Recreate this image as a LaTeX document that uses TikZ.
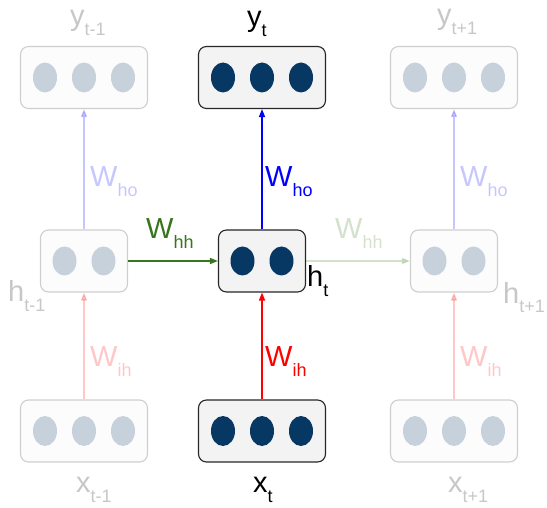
\documentclass[tikz,border=0pt]{standalone}
\usepackage{fontspec}
\setmainfont{Liberation Sans}
\usetikzlibrary{arrows.meta}
\definecolor{cellnavy}{HTML}{073763}
\definecolor{cellfill}{HTML}{F3F3F3}
\definecolor{wgreen}{HTML}{38761D}
\newcommand{\idx}[1]{\raisebox{-10pt}{\fontsize{18}{18}\selectfont #1}}
\tikzset{
    layer3/.style={rectangle, draw=black!85, fill=cellfill, rounded corners=8pt, minimum width=127pt, minimum height=62pt, line width=1.1pt},
    layer2/.style={layer3, minimum width=87pt},
    unit/.style={fill=cellnavy},
    lbl/.style={anchor=base west, inner sep=0pt, font=\fontsize{29}{29}\selectfont},
    wire/.style={-{Triangle[length=8pt,width=6pt]}, line width=1.3pt},
    faded/.style={opacity=0.22}
}

\begin{document}
\begin{tikzpicture}[x=1pt, y=1pt]
    \useasboundingbox (0,0) rectangle (547,507);

    % Time step t
    \node[layer3] (yt) at (262,429.5) {};
    \node[layer2] (ht) at (262,246) {};
    \node[layer3] (xt) at (262,76) {};
    \foreach \dx in {-39,0,39} {
        \fill[unit] ([xshift=\dx pt]yt.center) ellipse (12pt and 15pt);
        \fill[unit] ([xshift=\dx pt]xt.center) ellipse (12pt and 15pt);
    }
    \foreach \dx in {-19.5,19.5}
        \fill[unit] ([xshift=\dx pt]ht.center) ellipse (12pt and 14.5pt);

    \node[lbl] (ytlbl) at (247,480) {y\idx{t}};
    \node[lbl] (htlbl) at (307,220) {h\idx{t}};
    \node[lbl] (xtlbl) at (253,15) {x\idx{t}};

    \draw[wire, blue] (ht) -- (yt);
    \draw[wire, red] (xt) -- (ht);
    \node[lbl, blue] (who) at (265,320) {W\idx{ho}};
    \node[lbl, red] (wih) at (265,140) {W\idx{ih}};

    % Time step t-1
    \begin{scope}[faded]
        \node[layer3] (yl) at (84,429.5) {};
        \node[layer2] (hl) at (84,246) {};
        \node[layer3] (xl) at (84,76) {};
        \foreach \dx in {-39,0,39} {
            \fill[unit] ([xshift=\dx pt]yl.center) ellipse (12pt and 15pt);
            \fill[unit] ([xshift=\dx pt]xl.center) ellipse (12pt and 15pt);
        }
        \foreach \dx in {-19.5,19.5}
            \fill[unit] ([xshift=\dx pt]hl.center) ellipse (12pt and 14.5pt);
        \node[lbl] (yllbl) at (70,481) {y\idx{t-1}};
        \node[lbl] (hllbl) at (8,205) {h\idx{t-1}};
        \node[lbl] (xllbl) at (76,15) {x\idx{t-1}};
        \draw[wire, blue] (hl) -- (yl);
        \draw[wire, red] (xl) -- (hl);
        \node[lbl, blue] (whol) at (90,320) {W\idx{ho}};
        \node[lbl, red] (wihl) at (90,140) {W\idx{ih}};
    \end{scope}

    % Time step t+1
    \begin{scope}[faded]
        \node[layer3] (yr) at (454,429.5) {};
        \node[layer2] (hr) at (454,246) {};
        \node[layer3] (xr) at (454,76) {};
        \foreach \dx in {-39,0,39} {
            \fill[unit] ([xshift=\dx pt]yr.center) ellipse (12pt and 15pt);
            \fill[unit] ([xshift=\dx pt]xr.center) ellipse (12pt and 15pt);
        }
        \foreach \dx in {-19.5,19.5}
            \fill[unit] ([xshift=\dx pt]hr.center) ellipse (12pt and 14.5pt);
        \node[lbl] (yrlbl) at (437,482) {y\idx{t+1}};
        \node[lbl] (hrlbl) at (503,204) {h\idx{t+1}};
        \node[lbl] (xrlbl) at (448,15) {x\idx{t+1}};
        \draw[wire, blue] (hr) -- (yr);
        \draw[wire, red] (xr) -- (hr);
        \node[lbl, blue] (whor) at (460,320) {W\idx{ho}};
        \node[lbl, red] (wihr) at (460,140) {W\idx{ih}};
        \draw[wire, wgreen] (ht) -- (hr);
        \node[lbl, wgreen] (whhr) at (335,268) {W\idx{hh}};
    \end{scope}

    % Recurrent connection
    \draw[wire, wgreen] (hl) -- (ht);
    \node[lbl, wgreen] (whh) at (146,268) {W\idx{hh}};
\end{tikzpicture}
\end{document}
